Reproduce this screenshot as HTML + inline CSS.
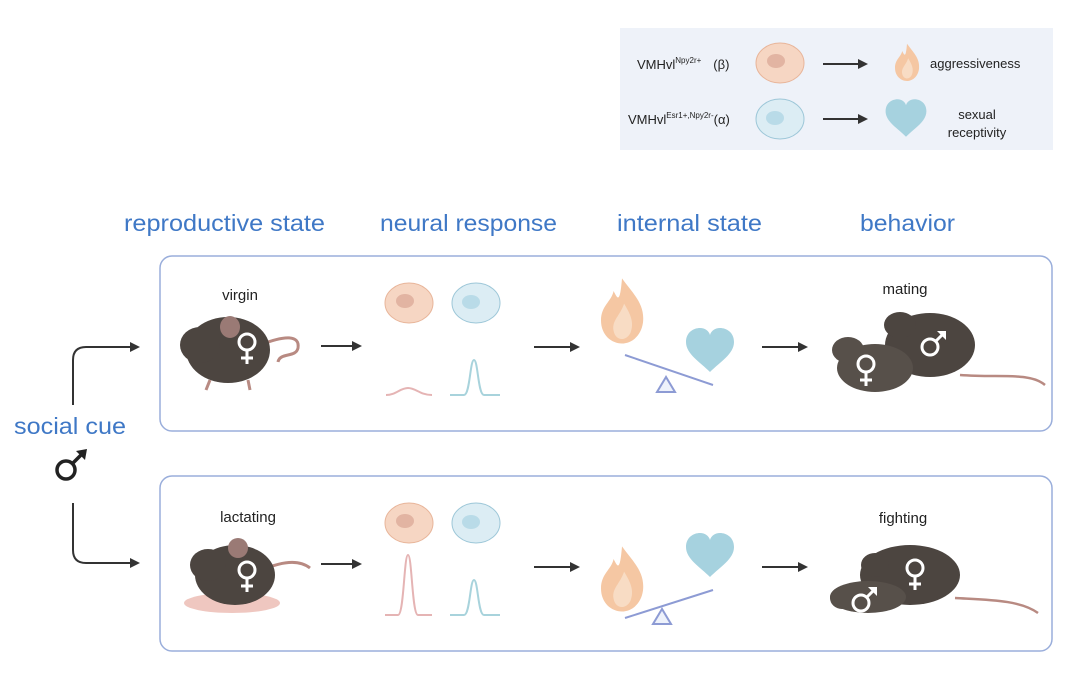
<!DOCTYPE html>
<html><head><meta charset="utf-8"><style>
html,body{margin:0;padding:0;background:#fff}
svg{display:block}
text{font-family:"Liberation Sans",sans-serif}
</style></head><body>
<svg width="1080" height="683" viewBox="0 0 1080 683" xmlns="http://www.w3.org/2000/svg">
<defs>
<marker id="ah" markerWidth="10" markerHeight="10" refX="8" refY="5" orient="auto" markerUnits="userSpaceOnUse"><path d="M0,0 L10,5 L0,10 z" fill="#333"/></marker>
<g id="flame"><path d="M0,-32 C10,-18 22,-8 20,10 C18,24 8,30 0,30 C-10,30 -20,22 -20,8 C-20,-6 -10,-10 -8,-20 C-4,-12 -2,-8 0,-32z" fill="#f5c7a3"/><path d="M2,-8 C8,2 12,10 8,20 C4,28 -6,28 -8,18 C-10,8 -2,4 2,-8z" fill="#f8dcc4"/></g>
<g id="heart"><path d="M0,22 C-10,12 -24,4 -24,-8 C-24,-18 -16,-22 -10,-22 C-5,-22 -1,-19 0,-15 C1,-19 5,-22 10,-22 C16,-22 24,-18 24,-8 C24,4 10,12 0,22z" fill="#a6d2df"/></g>
<g id="ocell"><ellipse rx="24" ry="20" fill="#f6d6c3" stroke="#e8b59a" stroke-width="1"/><ellipse cx="-4" cy="-2" rx="9" ry="7" fill="#e2b4a2"/></g>
<g id="bcell"><ellipse rx="24" ry="20" fill="#dcedf4" stroke="#9dc7d8" stroke-width="1"/><ellipse cx="-5" cy="-1" rx="9" ry="7" fill="#b9dbe8"/></g>
<g id="fem" fill="none" stroke="#fff" stroke-width="3"><circle cx="0" cy="-6" r="8"/><line x1="0" y1="2" x2="0" y2="16"/><line x1="-6" y1="10" x2="6" y2="10"/></g>
<g id="mal"><circle cx="-3" cy="3" r="8" fill="none" stroke="#fff" stroke-width="3"/><line x1="3" y1="-3" x2="10" y2="-10" stroke="#fff" stroke-width="3"/><path d="M4,-13 L13,-13 L13,-4z" fill="#fff"/></g>
</defs>

<!-- legend -->
<rect x="620" y="28" width="433" height="122" fill="#eef2f9"/>
<text x="637" y="69" font-size="13" fill="#222">VMHvl<tspan font-size="8" dy="-6">Npy2r+</tspan><tspan dy="6" dx="12">(β)</tspan></text>
<use href="#ocell" x="780" y="63"/>
<line x1="823" y1="64" x2="866" y2="64" stroke="#333" stroke-width="2" marker-end="url(#ah)"/>
<use href="#flame" transform="translate(907,63) scale(0.6)"/>
<text x="930" y="68" font-size="13" fill="#222">aggressiveness</text>
<text x="628" y="124" font-size="13" fill="#222">VMHvl<tspan font-size="8" dy="-6">Esr1+,Npy2r-</tspan><tspan dy="6" font-size="13">(α)</tspan></text>
<use href="#bcell" x="780" y="119"/>
<line x1="823" y1="119" x2="866" y2="119" stroke="#333" stroke-width="2" marker-end="url(#ah)"/>
<use href="#heart" transform="translate(906,118) scale(0.85)"/>
<text x="977" y="119" font-size="13" fill="#222" text-anchor="middle">sexual</text>
<text x="977" y="137" font-size="13" fill="#222" text-anchor="middle">receptivity</text>

<!-- headings -->
<g font-size="23" fill="#3f78c6">
<text x="124" y="231" textLength="201" lengthAdjust="spacingAndGlyphs">reproductive state</text>
<text x="380" y="231" textLength="177" lengthAdjust="spacingAndGlyphs">neural response</text>
<text x="617" y="231" textLength="145" lengthAdjust="spacingAndGlyphs">internal state</text>
<text x="860" y="231" textLength="95" lengthAdjust="spacingAndGlyphs">behavior</text>
</g>

<!-- boxes -->
<rect x="160" y="256" width="892" height="175" rx="12" fill="none" stroke="#9aaedb" stroke-width="1.5"/>
<rect x="160" y="476" width="892" height="175" rx="12" fill="none" stroke="#9aaedb" stroke-width="1.5"/>

<!-- social cue -->
<text x="14" y="434" font-size="23" fill="#3f78c6" textLength="112" lengthAdjust="spacingAndGlyphs">social cue</text>
<circle cx="66" cy="470" r="9" fill="none" stroke="#222" stroke-width="3.5"/>
<line x1="72" y1="464" x2="84" y2="452" stroke="#222" stroke-width="3.5"/>
<path d="M76,451 L87,449 L85,460z" fill="#222"/>
<path d="M73,405 V360 Q73,347 86,347 H138" fill="none" stroke="#333" stroke-width="2" marker-end="url(#ah)"/>
<path d="M73,503 V550 Q73,563 86,563 H138" fill="none" stroke="#333" stroke-width="2" marker-end="url(#ah)"/>

<!-- row 1 -->
<text x="240" y="300" font-size="15" fill="#222" text-anchor="middle">virgin</text>
<g>
<path d="M260,345 C285,335 300,335 298,348 C296,358 280,352 278,362" fill="none" stroke="#b88a82" stroke-width="3"/>
<ellipse cx="228" cy="350" rx="42" ry="33" fill="#4c4540"/>
<ellipse cx="200" cy="345" rx="20" ry="18" fill="#4c4540"/>
<ellipse cx="230" cy="327" rx="10" ry="11" fill="#9a7a75"/>
<path d="M210,380 l-4,10 M248,380 l2,10" stroke="#b88a82" stroke-width="3"/>
<use href="#fem" x="247" y="348"/>
</g>
<line x1="321" y1="346" x2="360" y2="346" stroke="#333" stroke-width="2" marker-end="url(#ah)"/>
<use href="#ocell" x="409" y="303"/>
<use href="#bcell" x="476" y="303"/>
<path d="M386,395 C396,395 400,388 408,388 C416,388 420,395 432,395" fill="none" stroke="#e5b4b4" stroke-width="2"/>
<path d="M450,395 H464 C470,395 470,360 474,360 C478,360 478,395 484,395 H500" fill="none" stroke="#a8d3dc" stroke-width="2"/>
<line x1="534" y1="347" x2="578" y2="347" stroke="#333" stroke-width="2" marker-end="url(#ah)"/>
<use href="#flame" transform="translate(622,312) scale(1.05)"/>
<use href="#heart" transform="translate(710,350)"/>
<line x1="625" y1="355" x2="713" y2="385" stroke="#8d9bd4" stroke-width="2"/>
<path d="M666,377 L657,392 L675,392z" fill="#eef2fb" stroke="#8d9bd4" stroke-width="2"/>
<line x1="762" y1="347" x2="806" y2="347" stroke="#333" stroke-width="2" marker-end="url(#ah)"/>
<text x="905" y="294" font-size="15" fill="#222" text-anchor="middle">mating</text>
<g>
<path d="M960,375 C1000,378 1030,372 1045,385" fill="none" stroke="#b88a82" stroke-width="2.5"/>
<ellipse cx="930" cy="345" rx="45" ry="32" fill="#4c4540"/>
<ellipse cx="900" cy="325" rx="16" ry="13" fill="#4c4540"/>
<ellipse cx="875" cy="368" rx="38" ry="24" fill="#57504a"/>
<ellipse cx="848" cy="350" rx="16" ry="13" fill="#57504a"/>
<use href="#mal" x="933" y="344"/>
<use href="#fem" x="866" y="370"/>
</g>

<!-- row 2 -->
<text x="248" y="522" font-size="15" fill="#222" text-anchor="middle">lactating</text>
<g>
<ellipse cx="232" cy="603" rx="48" ry="10" fill="#efc7c0"/>
<path d="M262,570 C285,560 300,560 310,568" fill="none" stroke="#b88a82" stroke-width="3"/>
<ellipse cx="235" cy="575" rx="40" ry="30" fill="#4c4540"/>
<ellipse cx="208" cy="565" rx="18" ry="16" fill="#4c4540"/>
<ellipse cx="238" cy="548" rx="10" ry="10" fill="#9a7a75"/>
<use href="#fem" x="247" y="576"/>
</g>
<line x1="321" y1="564" x2="360" y2="564" stroke="#333" stroke-width="2" marker-end="url(#ah)"/>
<use href="#ocell" x="409" y="523"/>
<use href="#bcell" x="476" y="523"/>
<path d="M385,615 H398 C404,615 404,555 408,555 C412,555 412,615 418,615 H432" fill="none" stroke="#e5b4b4" stroke-width="2"/>
<path d="M450,615 H464 C470,615 470,580 474,580 C478,580 478,615 484,615 H500" fill="none" stroke="#a8d3dc" stroke-width="2"/>
<line x1="534" y1="567" x2="578" y2="567" stroke="#333" stroke-width="2" marker-end="url(#ah)"/>
<use href="#flame" transform="translate(622,580) scale(1.05)"/>
<use href="#heart" transform="translate(710,555)"/>
<line x1="625" y1="618" x2="713" y2="590" stroke="#8d9bd4" stroke-width="2"/>
<path d="M662,609 L653,624 L671,624z" fill="#eef2fb" stroke="#8d9bd4" stroke-width="2"/>
<line x1="762" y1="567" x2="806" y2="567" stroke="#333" stroke-width="2" marker-end="url(#ah)"/>
<text x="903" y="523" font-size="15" fill="#222" text-anchor="middle">fighting</text>
<g>
<path d="M955,598 C990,600 1020,600 1038,613" fill="none" stroke="#b88a82" stroke-width="2.5"/>
<ellipse cx="910" cy="575" rx="50" ry="30" fill="#4c4540"/>
<ellipse cx="875" cy="565" rx="14" ry="12" fill="#4c4540"/>
<ellipse cx="868" cy="597" rx="38" ry="16" fill="#57504a"/>
<ellipse cx="842" cy="598" rx="12" ry="11" fill="#57504a"/>
<use href="#fem" x="915" y="574"/>
<use href="#mal" x="864" y="600"/>
</g>
</svg>
</body></html>
